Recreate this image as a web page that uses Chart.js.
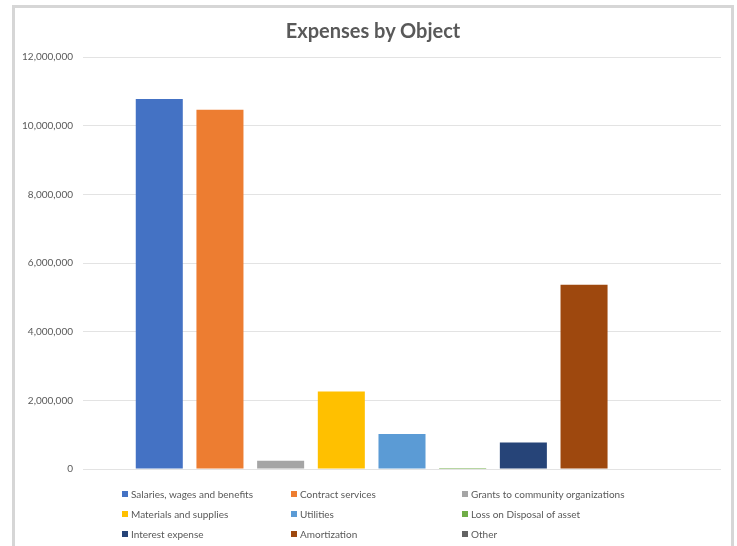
<!DOCTYPE html>
<html>
<head>
<meta charset="utf-8">
<script src="https://cdn.jsdelivr.net/npm/chart.js@4.4.1/dist/chart.umd.min.js"></script>
<style>
  html, body { margin: 0; padding: 0; background: #ffffff; overflow: hidden; }
  #wrap { position: relative; width: 737px; height: 546px; overflow: hidden; }
  #frame { position: absolute; left: 12px; top: 5px; width: 716px; height: 600px;
           border: 3px solid #d6d6d6; box-sizing: content-box; pointer-events: none; }
  #c { position: absolute; left: 0; top: 0; }
  #title { position: absolute; left: 15px; width: 716px; top: 18px; text-align: center;
           font-family: Lato, "Open Sans", sans-serif; font-size: 20px; font-weight: bold;
           color: #595959; line-height: 24px; white-space: nowrap; }
  #legend { position: absolute; left: 0; top: 0; width: 737px; height: 546px; pointer-events: none;
            font-family: Lato, "Open Sans", sans-serif; font-size: 10px; color: #595959; }
  .item { position: absolute; white-space: nowrap; line-height: 12px; }
  .sw { display: inline-block; width: 6px; height: 6px; margin-right: 3px; vertical-align: 1px; }
</style>
</head>
<body>
<div id="wrap">
  <div id="frame"></div>
  <canvas id="c" width="737" height="546"></canvas>
  <div id="title"></div>
  <div id="legend"></div>
</div>
<script>
// ---- data ----
const title = "Expenses by Object";
const categories = [""];
const seriesNames = [
  "Salaries, wages and benefits",
  "Contract services",
  "Grants to community organizations",
  "Materials and supplies",
  "Utilities",
  "Loss on Disposal of asset",
  "Interest expense",
  "Amortization",
  "Other"
];
const seriesValues = [10780000, 10460000, 240000, 2260000, 1020000, 30000, 770000, 5370000, 0];
const seriesColors = ["#4472C4", "#ED7D31", "#A5A5A5", "#FFC000", "#5B9BD5", "#70AD47", "#264478", "#9E480E", "#636363"];
const yTickMin = 0;
const yTickMax = 12000000;
const yTickStep = 2000000;

document.getElementById("title").textContent = title;

// ---- chart ----
const datasets = seriesNames.map((name, i) => ({
  label: name,
  data: [seriesValues[i]],
  backgroundColor: seriesColors[i],
  borderWidth: 0,
  categoryPercentage: 0.856,
  barPercentage: 0.775
}));

new Chart(document.getElementById("c"), {
  type: "bar",
  data: { labels: categories, datasets: datasets },
  options: {
    responsive: false,
    animation: false,
    devicePixelRatio: 1,
    layout: { padding: { left: 0, right: 16, top: 57, bottom: 77 } },
    plugins: {
      legend: { display: false },
      tooltip: { enabled: false },
      title: { display: false }
    },
    scales: {
      x: { display: false },
      y: {
        min: yTickMin,
        max: yTickMax,
        afterFit: (s) => { s.width = 83; },
        ticks: {
          stepSize: yTickStep,
          padding: 10,
          color: "#595959",
          font: { family: "Lato, 'Open Sans', sans-serif", size: 10 },
          callback: (v) => Number(v).toLocaleString("en-US")
        },
        grid: { color: "#e3e3e3", lineWidth: 1, drawTicks: false },
        border: { display: false }
      }
    }
  }
});

// ---- legend (3 columns, built from series arrays) ----
const legendCols = [122, 291, 462];
const legendRows = [488, 508, 528];
const lg = document.getElementById("legend");
seriesNames.forEach((name, i) => {
  const d = document.createElement("div");
  d.className = "item";
  d.style.left = legendCols[i % 3] + "px";
  d.style.top = legendRows[Math.floor(i / 3)] + "px";
  const sw = document.createElement("span");
  sw.className = "sw";
  sw.style.background = seriesColors[i];
  d.appendChild(sw);
  d.appendChild(document.createTextNode(name));
  lg.appendChild(d);
});
</script>
</body>
</html>
